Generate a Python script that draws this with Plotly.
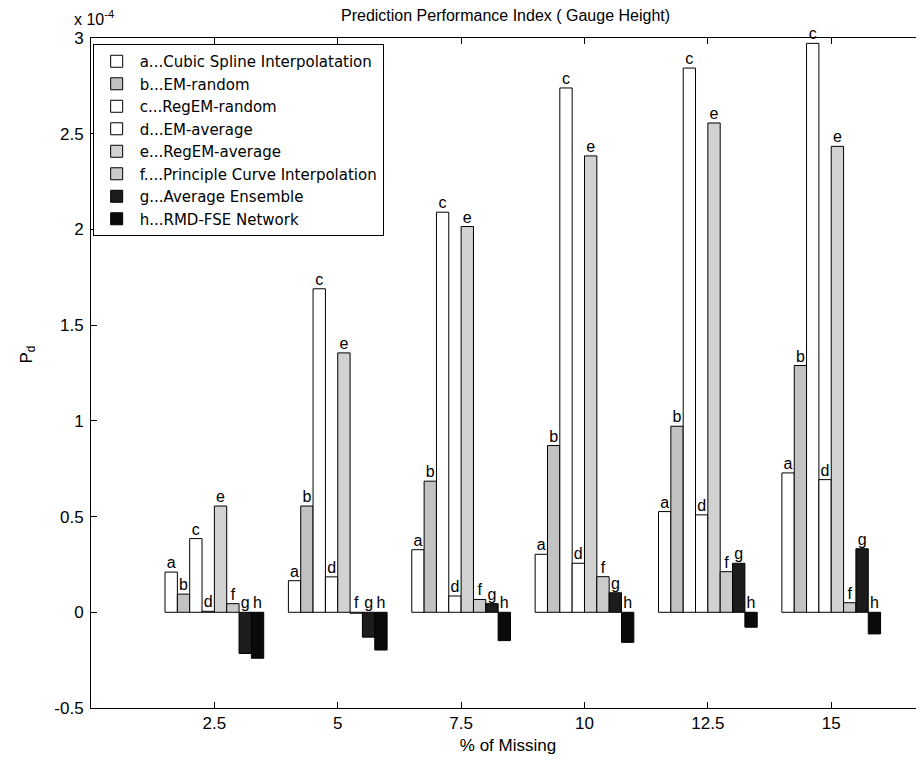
import plotly.graph_objects as go

# ---- data (values in units of 1e-4) ----
pct_missing = [2.5, 5, 7.5, 10, 12.5, 15]
x_tick_text = ["2.5", "5", "7.5", "10", "12.5", "15"]
series_letters = ["a", "b", "c", "d", "e", "f", "g", "h"]
series_names = [
    "a...Cubic Spline Interpolatation",
    "b...EM-random",
    "c...RegEM-random",
    "d...EM-average",
    "e...RegEM-average",
    "f....Principle Curve Interpolation",
    "g...Average Ensemble",
    "h...RMD-FSE Network",
]
vals_a = [0.21, 0.165, 0.327, 0.303, 0.526, 0.728]
vals_b = [0.095, 0.555, 0.685, 0.871, 0.972, 1.289]
vals_c = [0.385, 1.69, 2.09, 2.739, 2.843, 2.972]
vals_d = [0.005, 0.185, 0.085, 0.256, 0.509, 0.693]
vals_e = [0.555, 1.355, 2.015, 2.384, 2.556, 2.434]
vals_f = [0.045, -0.005, 0.067, 0.186, 0.212, 0.05]
vals_g = [-0.215, -0.13, 0.045, 0.102, 0.256, 0.332]
vals_h = [-0.24, -0.197, -0.148, -0.157, -0.078, -0.113]
all_vals = [vals_a, vals_b, vals_c, vals_d, vals_e, vals_f, vals_g, vals_h]

y_tick_vals = [-0.5, 0, 0.5, 1, 1.5, 2, 2.5, 3]
y_tick_text = ["-0.5", "0", "0.5", "1", "1.5", "2", "2.5", "3"]

# ---- styles ----
fills = ["#ffffff", "#c2c2c2", "#ffffff", "#ffffff", "#d2d2d2", "#cbcbcb", "#1c1c1c", "#0a0a0a"]
FONT = "Liberation Sans, Arial, Helvetica, sans-serif"
LEG_FONT = "DejaVu Sans, Liberation Sans, sans-serif"

fig = go.Figure()
for name, vals, col in zip(series_names, all_vals, fills):
    fig.add_trace(go.Bar(
        x=pct_missing, y=vals, name=name,
        marker=dict(color=col, line=dict(color="black", width=1)),
    ))

# letter labels above each bar (above the baseline for negative bars)
group_width = 2.5 * 0.8
bar_w = group_width / len(series_letters)
for i, (letter, vals) in enumerate(zip(series_letters, all_vals)):
    off = (i - (len(series_letters) - 1) / 2) * bar_w
    fig.add_trace(go.Scatter(
        x=[p + off for p in pct_missing],
        y=[max(v, 0) for v in vals],
        mode="text", text=[letter] * len(vals),
        textposition="top center",
        textfont=dict(size=16, color="black", family=FONT),
        showlegend=False, hoverinfo="skip", cliponaxis=False,
    ))

fig.update_layout(
    width=917, height=747,
    margin=dict(l=83, r=0, t=30, b=47),
    paper_bgcolor="white", plot_bgcolor="white",
    barmode="group", bargap=0.2, bargroupgap=0,
    font=dict(family=FONT, size=17, color="black"),
    showlegend=True,
    legend=dict(
        x=0.002, y=0.991, xanchor="left", yanchor="top",
        bgcolor="white", bordercolor="black", borderwidth=1,
        font=dict(size=15, family=LEG_FONT), tracegroupgap=0,
        itemwidth=36,
    ),
    xaxis=dict(
        range=[0, 16.9], tickvals=pct_missing, ticktext=x_tick_text,
        ticks="inside", ticklen=6, tickcolor="black",
        showline=True, linecolor="black", linewidth=1, mirror="ticks",
        showgrid=False, zeroline=False,
        title=dict(text="% of Missing", font=dict(size=17), standoff=6),
        tickfont=dict(size=17), automargin=False,
    ),
    yaxis=dict(
        range=[-0.5, 3], tickvals=y_tick_vals, ticktext=y_tick_text,
        ticks="inside", ticklen=6, tickcolor="black",
        showline=True, linecolor="black", linewidth=1, mirror="ticks",
        showgrid=False, zeroline=False, ticklabelstandoff=3,
        tickfont=dict(size=17), automargin=False,
    ),
    annotations=[
        dict(text="Prediction Performance Index ( Gauge Height)", xref="paper", yref="paper",
             x=0.497, y=1.033, xanchor="center", yanchor="middle", showarrow=False,
             font=dict(size=16)),
        dict(text="x 10<sup>-4</sup>", xref="paper", yref="paper",
             x=-0.023, y=1.012, xanchor="left", yanchor="bottom", showarrow=False,
             font=dict(size=16)),
        dict(text="P<sub>d</sub>", xref="paper", yref="paper",
             x=-0.076, y=0.527, xanchor="center", yanchor="middle", showarrow=False,
             textangle=-90, font=dict(size=17)),
    ],
)

fig.write_html("out.html")
